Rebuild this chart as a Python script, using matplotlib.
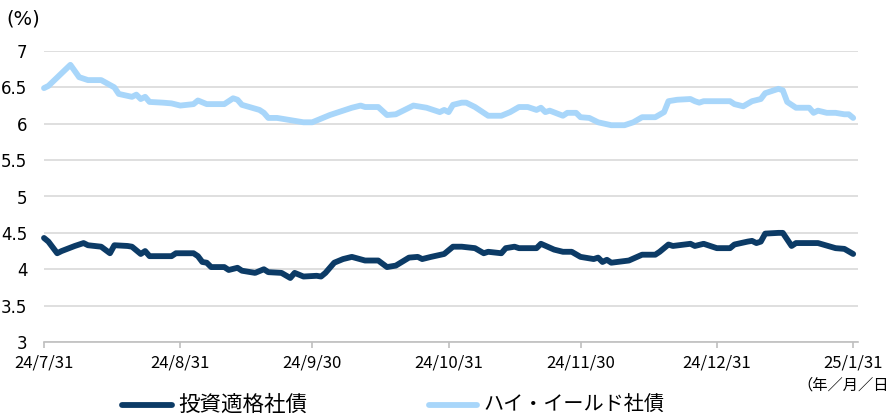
import matplotlib
matplotlib.use('Agg')
import matplotlib.pyplot as plt
import matplotlib.dates as mdates
import pandas as pd
from matplotlib.lines import Line2D

plt.rcParams['font.family'] = ['Noto Sans CJK JP', 'DejaVu Sans']

# investment grade corporate bonds
ig_dates = ["2024-07-31", "2024-08-01", "2024-08-03", "2024-08-04", "2024-08-07", "2024-08-09",
            "2024-08-10", "2024-08-13", "2024-08-15", "2024-08-16", "2024-08-19", "2024-08-20",
            "2024-08-22", "2024-08-23", "2024-08-24", "2024-08-29", "2024-08-30", "2024-09-03",
            "2024-09-04", "2024-09-05", "2024-09-06", "2024-09-07", "2024-09-10", "2024-09-11",
            "2024-09-13", "2024-09-14", "2024-09-17", "2024-09-19", "2024-09-20", "2024-09-23",
            "2024-09-25", "2024-09-26", "2024-09-28", "2024-10-01", "2024-10-02", "2024-10-03",
            "2024-10-05", "2024-10-07", "2024-10-09", "2024-10-12", "2024-10-15", "2024-10-17",
            "2024-10-19", "2024-10-22", "2024-10-24", "2024-10-25", "2024-10-27", "2024-10-30",
            "2024-11-01", "2024-11-03", "2024-11-06", "2024-11-08", "2024-11-09", "2024-11-12",
            "2024-11-13", "2024-11-15", "2024-11-16", "2024-11-20", "2024-11-21", "2024-11-24",
            "2024-11-26", "2024-11-28", "2024-11-30", "2024-12-03", "2024-12-04", "2024-12-05",
            "2024-12-06", "2024-12-07", "2024-12-11", "2024-12-14", "2024-12-17", "2024-12-18",
            "2024-12-20", "2024-12-21", "2024-12-25", "2024-12-26", "2024-12-28", "2024-12-31",
            "2025-01-03", "2025-01-04", "2025-01-07", "2025-01-08", "2025-01-09", "2025-01-10",
            "2025-01-11", "2025-01-14", "2025-01-15", "2025-01-17", "2025-01-18", "2025-01-23",
            "2025-01-27", "2025-01-29", "2025-01-31"]
ig_values = [4.43, 4.38, 4.22, 4.25, 4.32, 4.36,
             4.33, 4.31, 4.22, 4.33, 4.32, 4.31,
             4.21, 4.25, 4.18, 4.18, 4.22, 4.22,
             4.18, 4.10, 4.09, 4.03, 4.03, 3.99,
             4.02, 3.98, 3.95, 4.00, 3.96, 3.95,
             3.88, 3.95, 3.90, 3.91, 3.90, 3.95,
             4.09, 4.14, 4.17, 4.12, 4.12, 4.03,
             4.05, 4.16, 4.17, 4.14, 4.17, 4.21,
             4.31, 4.31, 4.29, 4.22, 4.24, 4.22,
             4.29, 4.31, 4.29, 4.29, 4.35, 4.27,
             4.24, 4.24, 4.17, 4.14, 4.16, 4.10,
             4.13, 4.09, 4.12, 4.20, 4.20, 4.24,
             4.34, 4.32, 4.35, 4.32, 4.35, 4.29,
             4.29, 4.34, 4.38, 4.39, 4.36, 4.38,
             4.49, 4.50, 4.50, 4.32, 4.36, 4.36,
             4.29, 4.28, 4.21]

# high yield corporate bonds
hy_dates = ["2024-07-31", "2024-08-01", "2024-08-06", "2024-08-08", "2024-08-10", "2024-08-13",
            "2024-08-16", "2024-08-17", "2024-08-20", "2024-08-21", "2024-08-22", "2024-08-23",
            "2024-08-24", "2024-08-27", "2024-08-29", "2024-08-31", "2024-09-03", "2024-09-04",
            "2024-09-06", "2024-09-10", "2024-09-12", "2024-09-13", "2024-09-14", "2024-09-18",
            "2024-09-19", "2024-09-20", "2024-09-22", "2024-09-25", "2024-09-28", "2024-09-30",
            "2024-10-02", "2024-10-04", "2024-10-09", "2024-10-11", "2024-10-12", "2024-10-15",
            "2024-10-17", "2024-10-19", "2024-10-23", "2024-10-26", "2024-10-29", "2024-10-30",
            "2024-10-31", "2024-11-01", "2024-11-03", "2024-11-04", "2024-11-06", "2024-11-09",
            "2024-11-12", "2024-11-14", "2024-11-16", "2024-11-18", "2024-11-20", "2024-11-21",
            "2024-11-22", "2024-11-23", "2024-11-26", "2024-11-27", "2024-11-29", "2024-11-30",
            "2024-12-02", "2024-12-04", "2024-12-07", "2024-12-10", "2024-12-12", "2024-12-14",
            "2024-12-17", "2024-12-19", "2024-12-20", "2024-12-22", "2024-12-25", "2024-12-26",
            "2024-12-27", "2024-12-28", "2025-01-03", "2025-01-04", "2025-01-06", "2025-01-08",
            "2025-01-10", "2025-01-11", "2025-01-14", "2025-01-15", "2025-01-16", "2025-01-18",
            "2025-01-21", "2025-01-22", "2025-01-23", "2025-01-25", "2025-01-27", "2025-01-29",
            "2025-01-30", "2025-01-31"]
hy_values = [6.49, 6.52, 6.81, 6.64, 6.60, 6.60,
             6.50, 6.41, 6.37, 6.40, 6.34, 6.37,
             6.30, 6.29, 6.28, 6.25, 6.27, 6.32,
             6.27, 6.27, 6.35, 6.33, 6.26, 6.19,
             6.15, 6.08, 6.08, 6.05, 6.02, 6.02,
             6.07, 6.12, 6.22, 6.25, 6.23, 6.23,
             6.12, 6.13, 6.25, 6.22, 6.16, 6.19,
             6.16, 6.26, 6.29, 6.29, 6.23, 6.11,
             6.11, 6.16, 6.23, 6.23, 6.19, 6.22,
             6.16, 6.18, 6.11, 6.15, 6.15, 6.09,
             6.08, 6.02, 5.98, 5.98, 6.02, 6.09,
             6.09, 6.16, 6.31, 6.33, 6.34, 6.31,
             6.29, 6.31, 6.31, 6.27, 6.24, 6.31,
             6.34, 6.42, 6.48, 6.46, 6.30, 6.22,
             6.22, 6.15, 6.18, 6.15, 6.15, 6.13,
             6.13, 6.08]

tick_dates = ["2024-07-31", "2024-08-31", "2024-09-30", "2024-10-31",
              "2024-11-30", "2024-12-31", "2025-01-31"]
tick_labels = ["24/7/31", "24/8/31", "24/9/30", "24/10/31",
               "24/11/30", "24/12/31", "25/1/31"]
y_ticks = [3, 3.5, 4, 4.5, 5, 5.5, 6, 6.5, 7]

ig_label = "投資適格社債"
hy_label = "ハイ・イールド社債"
ig_color = "#0c3b66"
hy_color = "#a8d6fa"

W, H = 888, 415
fig = plt.figure(figsize=(W / 100, H / 100), dpi=100)
ax = fig.add_axes([44 / W, 1 - 342 / H, (858 - 44) / W, (342 - 51) / H])

ig_x = pd.to_datetime(ig_dates)
hy_x = pd.to_datetime(hy_dates)
ax.plot(ig_x, ig_values, color=ig_color, lw=4.2, solid_joinstyle='round',
        solid_capstyle='round', clip_on=False, zorder=3)
ax.plot(hy_x, hy_values, color=hy_color, lw=4.2, solid_joinstyle='round',
        solid_capstyle='round', clip_on=False, zorder=3)

start = mdates.date2num(pd.Timestamp(tick_dates[0]))
ax.set_xlim(start, start + 185.1)
ax.set_ylim(3, 7)

ax.set_xticks(pd.to_datetime(tick_dates))
ax.set_xticklabels(tick_labels, fontsize=12)
ax.set_yticks(y_ticks)
ax.set_yticklabels([f"{v:g}" for v in y_ticks], fontsize=12, family='DejaVu Sans')

for s in ['top', 'right', 'left']:
    ax.spines[s].set_visible(False)
ax.spines['bottom'].set_color('#bfbfbf')
ax.spines['bottom'].set_linewidth(1.2)
ax.tick_params(axis='x', length=4, width=1.2, color='#bfbfbf', pad=5)
ax.tick_params(axis='y', length=0, pad=12)
ax.grid(axis='y', color='#d9d9d9', lw=1.2)
ax.set_axisbelow(True)

fig.text(6 / W, 1 - 19 / H, "(%)", fontsize=14, ha='left', va='center',
         family='DejaVu Sans')
fig.text(797 / W, 1 - 385 / H, "（年／月／日）", fontsize=11, ha='left', va='center')

# legend drawn by hand
ly = 1 - 405 / H
fig.add_artist(Line2D([122 / W, 172 / W], [ly, ly], color=ig_color, lw=4.2,
                      solid_capstyle='round'))
fig.text(178 / W, ly, ig_label, fontsize=15.5, ha='left', va='center')
fig.add_artist(Line2D([429 / W, 477 / W], [ly, ly], color=hy_color, lw=4.2,
                      solid_capstyle='round'))
fig.text(483 / W, ly, hy_label, fontsize=14.5, ha='left', va='center')

fig.savefig("out.png", dpi=100)
